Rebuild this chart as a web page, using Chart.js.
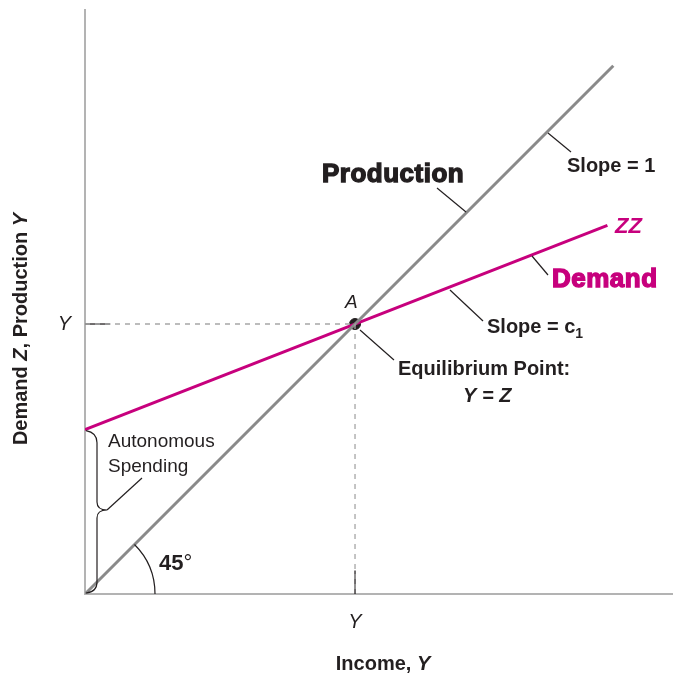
<!DOCTYPE html>
<html>
<head>
<meta charset="utf-8">
<script src="https://cdn.jsdelivr.net/npm/chart.js@4.4.1/dist/chart.umd.min.js"></script>
<style>
  html, body { margin: 0; padding: 0; background: #fff; }
  #wrap { width: 674px; height: 673px; }
</style>
</head>
<body>
<div id="wrap"><canvas id="chart" width="674" height="673"></canvas></div>
<script>
// Goods market equilibrium (Keynesian cross)
var productionLine = [{x: 0, y: 0}, {x: 90, y: 90}];      // Y = Z, slope 1
var demandLine = [{x: 0, y: 28}, {x: 89, y: 62.8}];       // ZZ, slope c1
var equilibrium = [{x: 46, y: 46}];                        // point A
var guideLine = [{x: 0, y: 46}, {x: 46, y: 46}, {x: 46, y: 0}];
var yTickMark = [{x: 0, y: 46}, {x: 4.3, y: 46}];
var xTickMark = [{x: 46, y: 0}, {x: 46, y: 4}];
var tickValues = [46];
var tickLabels = ['Y'];

var FONT = '"Liberation Sans", Arial, Helvetica, sans-serif';
var INK = '#231f20';
var MAGENTA = '#c7007d';

// draw a row of text pieces with different fonts
function drawRuns(ctx, runs, x, y, align) {
    var total = 0;
    runs.forEach(function (r) {
        ctx.font = r.font;
        r.w = ctx.measureText(r.text).width;
        total += r.w;
    });
    var cx = align === 'center' ? x - total / 2 : x;
    runs.forEach(function (r) {
        ctx.font = r.font;
        ctx.fillStyle = r.color || INK;
        ctx.textAlign = 'left';
        ctx.textBaseline = 'alphabetic';
        ctx.fillText(r.text, cx, y + (r.dy || 0));
        if (r.heavy) {
            // fake a black weight
            ctx.strokeStyle = r.color || INK;
            ctx.lineWidth = r.heavy;
            ctx.strokeText(r.text, cx, y + (r.dy || 0));
        }
        cx += r.w;
    });
}

function leader(ctx, x1, y1, x2, y2) {
    ctx.beginPath();
    ctx.moveTo(x1, y1);
    ctx.lineTo(x2, y2);
    ctx.stroke();
}

var annotations = {
    id: 'annotations',
    afterDraw: function (chart) {
        var ctx = chart.ctx;
        var xs = chart.scales.x, ys = chart.scales.y;
        var ox = xs.getPixelForValue(0), oy = ys.getPixelForValue(0);
        ctx.save();

        // leader lines
        ctx.strokeStyle = INK;
        ctx.lineWidth = 1.2;
        leader(ctx, 437, 188, 466, 212);
        leader(ctx, 548, 133, 571, 152);
        leader(ctx, 532, 256, 548, 275);
        leader(ctx, 450, 290, 483, 321);
        leader(ctx, 360, 330, 394, 360);
        leader(ctx, 107, 510, 142, 478);

        // brace for autonomous spending
        var top = ys.getPixelForValue(demandLine[0].y);
        var mid = 510;
        ctx.beginPath();
        ctx.moveTo(ox + 1, top + 1);
        ctx.quadraticCurveTo(ox + 12, top + 3, ox + 12, top + 13);
        ctx.lineTo(ox + 12, mid - 8);
        ctx.quadraticCurveTo(ox + 12, mid, ox + 22, mid);
        ctx.quadraticCurveTo(ox + 12, mid, ox + 12, mid + 8);
        ctx.lineTo(ox + 12, oy - 12);
        ctx.quadraticCurveTo(ox + 12, oy - 2, ox + 1, oy - 1);
        ctx.stroke();

        // 45 degree arc
        ctx.beginPath();
        ctx.arc(ox, oy, 70, -Math.PI / 4, 0);
        ctx.stroke();

        // labels
        drawRuns(ctx, [{text: 'A', font: 'italic 19px ' + FONT}], 345, 308);
        ctx.letterSpacing = '0.5px';
        drawRuns(ctx, [{text: 'Production', font: 'bold 26px ' + FONT, heavy: 1.4}], 322, 182);
        drawRuns(ctx, [{text: 'Demand', font: 'bold 26px ' + FONT, color: MAGENTA, heavy: 1.4}], 552, 287);
        ctx.letterSpacing = '0px';
        drawRuns(ctx, [{text: 'ZZ', font: 'italic bold 22px ' + FONT, color: MAGENTA}], 615, 233);
        drawRuns(ctx, [{text: 'Slope = 1', font: 'bold 20px ' + FONT}], 567, 172);
        drawRuns(ctx, [
            {text: 'Slope = c', font: 'bold 20px ' + FONT},
            {text: '1', font: 'bold 14px ' + FONT, dy: 5}
        ], 487, 333);
        drawRuns(ctx, [{text: 'Equilibrium Point:', font: 'bold 20px ' + FONT}], 398, 375);
        drawRuns(ctx, [{text: 'Y = Z', font: 'italic bold 20px ' + FONT}], 463, 402);
        drawRuns(ctx, [{text: 'Autonomous', font: '19px ' + FONT}], 108, 447);
        drawRuns(ctx, [{text: 'Spending', font: '19px ' + FONT}], 108, 472);
        drawRuns(ctx, [
            {text: '45', font: 'bold 22px ' + FONT},
            {text: '°', font: '22px ' + FONT}
        ], 159, 570);

        // axis titles
        drawRuns(ctx, [
            {text: 'Income, ', font: 'bold 20px ' + FONT},
            {text: 'Y', font: 'italic bold 20px ' + FONT}
        ], 383, 670, 'center');
        ctx.translate(27, 329);
        ctx.rotate(-Math.PI / 2);
        drawRuns(ctx, [
            {text: 'Demand ', font: 'bold 20px ' + FONT},
            {text: 'Z', font: 'italic bold 20px ' + FONT},
            {text: ', Production ', font: 'bold 20px ' + FONT},
            {text: 'Y', font: 'italic bold 20px ' + FONT}
        ], 0, 0, 'center');
        ctx.restore();
    }
};

var axisBorder = {display: true, color: '#b3b3b3', width: 2};

// fixed axis sizes, no label overflow padding
function fitX(axis) {
    axis.height = 79;
    axis.paddingLeft = 0; axis.paddingRight = 0;
}
function fitY(axis) {
    axis.width = 85;
    axis.paddingTop = 0; axis.paddingBottom = 0;
}

new Chart(document.getElementById('chart').getContext('2d'), {
    type: 'scatter',
    data: {
        datasets: [
            {
                data: guideLine, showLine: true, pointRadius: 0,
                borderColor: '#a6a6a6', borderWidth: 1.3, borderDash: [5, 5]
            },
            {
                data: yTickMark, showLine: true, pointRadius: 0,
                borderColor: INK, borderWidth: 1.3
            },
            {
                data: xTickMark, showLine: true, pointRadius: 0,
                borderColor: INK, borderWidth: 1.3
            },
            {
                data: productionLine, showLine: true, pointRadius: 0,
                borderColor: '#8a8a8a', borderWidth: 3
            },
            {
                data: demandLine, showLine: true, pointRadius: 0,
                borderColor: MAGENTA, borderWidth: 3
            },
            {
                data: equilibrium, showLine: false, pointRadius: 5.5,
                backgroundColor: INK, borderColor: INK
            }
        ]
    },
    options: {
        responsive: false,
        animation: false,
        events: [],
        layout: {autoPadding: false, padding: {top: 10, right: 2, left: 0, bottom: 0}},
        plugins: {legend: {display: false}, tooltip: {enabled: false}},
        scales: {
            x: {
                min: 0, max: 100,
                grid: {display: false, drawTicks: false},
                border: axisBorder,
                afterBuildTicks: function (axis) {
                    axis.ticks = tickValues.map(function (v) { return {value: v}; });
                },
                afterFit: fitX,
                ticks: {
                    autoSkip: false, maxRotation: 0, padding: 16, color: INK,
                    font: {family: FONT, size: 20, style: 'italic'},
                    callback: function (v, i) { return tickLabels[i]; }
                }
            },
            y: {
                min: 0, max: 99.5,
                grid: {display: false, drawTicks: false},
                border: axisBorder,
                afterBuildTicks: function (axis) {
                    axis.ticks = tickValues.map(function (v) { return {value: v}; });
                },
                afterFit: fitY,
                ticks: {
                    autoSkip: false, padding: 14, color: INK,
                    font: {family: FONT, size: 20, style: 'italic'},
                    callback: function (v, i) { return tickLabels[i]; }
                }
            }
        }
    },
    plugins: [annotations]
});
</script>
</body>
</html>
